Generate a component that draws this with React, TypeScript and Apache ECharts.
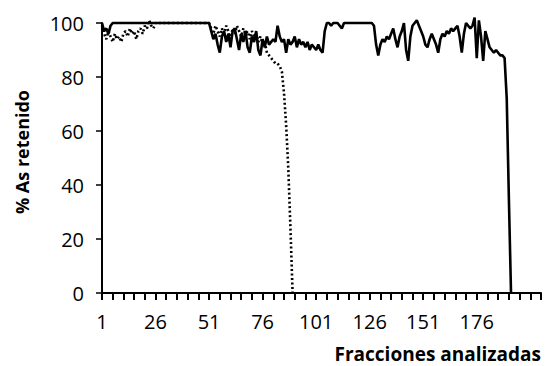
import React, { useEffect, useRef } from "react";
import * as echarts from "echarts";

// Fraction numbers on the x axis (category axis, 1..206)
const fractions: string[] = Array.from({ length: 206 }, (_, i) => String(i + 1));

// Y tick values
const yTicks = [0, 20, 40, 60, 80, 100];

// Solid series: % As retained, fractions 1..192
const solidValues: number[] = [
  100, 97, 98, 96, 99, 100, 100, 100, 100, 100,
  100, 100, 100, 100, 100, 100, 100, 100, 100, 100,
  100, 100, 100, 100, 100, 100, 100, 100, 100, 100,
  100, 100, 100, 100, 100, 100, 100, 100, 100, 100,
  100, 100, 100, 100, 100, 100, 100, 100, 100, 100,
  100, 97, 94, 96, 92, 89, 95, 97, 93, 96,
  91, 97, 98, 94, 90, 96, 93, 97, 91, 89,
  95, 93, 97, 90, 88, 94, 91, 95, 92, 93,
  94, 93, 99, 95, 93, 94, 89, 94, 92, 93,
  95, 91, 94, 92, 93, 91, 93, 90, 92, 91,
  90, 92, 90, 89, 97, 100, 100, 99, 100, 100,
  100, 99, 98, 100, 100, 100, 100, 100, 100, 100,
  100, 100, 100, 100, 100, 100, 100, 99, 92, 88,
  92, 94, 93, 95, 94, 96, 98, 94, 91, 95,
  97, 100, 90, 86, 95, 99, 100, 101, 99, 97,
  95, 92, 91, 94, 96, 94, 92, 89, 94, 96,
  95, 97, 96, 98, 97, 98, 99, 95, 89, 96,
  100, 99, 98, 99, 102, 87, 101, 95, 86, 97,
  94, 91, 90, 89, 90, 89, 88, 88, 87, 72,
  35, 0,
];

// Dotted series: % As retained, fractions 1..90
const dottedValues: number[] = [
  99, 96, 94, 97, 95, 93, 96, 94, 95, 93,
  96, 97, 95, 98, 96, 97, 94, 97, 98, 96,
  99, 98, 101, 99, 98, 100, 100, 100, 100, 100,
  100, 100, 100, 100, 100, 100, 100, 100, 100, 100,
  100, 100, 100, 100, 100, 100, 100, 100, 100, 100,
  100, 98, 96, 99, 97, 95, 98, 96, 99, 97,
  94, 98, 96, 99, 97, 95, 98, 96, 97, 94,
  97, 95, 96, 93, 95, 92, 93, 89, 88, 87,
  86, 85, 85, 84, 82, 74, 62, 46, 24, 0,
];

const FONT = "'Open Sans', 'Noto Sans', sans-serif";

export default function App() {
  const ref = useRef<HTMLDivElement>(null);

  useEffect(() => {
    document.body.style.margin = "0";
    if (!ref.current) return;
    const chart = echarts.init(ref.current, null, { renderer: "svg" });
    chart.setOption({
      animation: false,
      backgroundColor: "#ffffff",
      grid: { left: 102, right: 4, top: 23, bottom: 73, containLabel: false },
      xAxis: {
        type: "category",
        data: fractions,
        boundaryGap: false,
        axisLine: { show: true, lineStyle: { color: "#000", width: 2 } },
        axisTick: {
          show: true,
          interval: 4,
          length: 7,
          inside: false,
          lineStyle: { color: "#000", width: 2 },
        },
        axisLabel: {
          interval: 24,
          margin: 18,
          color: "#000",
          fontSize: 20,
          fontFamily: FONT,
          formatter: (v: string) => (Number(v) > 180 ? "" : v),
        },
        splitLine: { show: false },
      },
      yAxis: {
        type: "value",
        min: yTicks[0],
        max: yTicks[yTicks.length - 1],
        interval: 20,
        axisLine: { show: true, lineStyle: { color: "#000", width: 2 } },
        axisTick: { show: true, length: 6, lineStyle: { color: "#000", width: 1.5 } },
        axisLabel: {
          margin: 18,
          color: "#000",
          fontSize: 20,
          fontFamily: FONT,
        },
        splitLine: { show: false },
      },
      graphic: [
        {
          type: "text",
          x: 22,
          y: 152,
          rotation: Math.PI / 2,
          style: {
            text: "% As retenido",
            fontSize: 18,
            fontWeight: "bold",
            fontFamily: FONT,
            fill: "#000",
            textAlign: "center",
            textVerticalAlign: "middle",
          },
        },
        {
          type: "text",
          right: 4,
          top: 344,
          style: {
            text: "Fracciones analizadas",
            fontSize: 19,
            fontWeight: "bold",
            fontFamily: FONT,
            fill: "#000",
          },
        },
      ],
      series: [
        {
          type: "line",
          data: solidValues,
          showSymbol: false,
          symbol: "none",
          clip: false,
          lineStyle: { color: "#000", width: 2.6, type: "solid" },
          z: 3,
        },
        {
          type: "line",
          data: dottedValues,
          showSymbol: false,
          symbol: "none",
          clip: false,
          lineStyle: { color: "#000", width: 2.6, type: [2, 2.5] },
          z: 2,
        },
      ],
    });
    return () => chart.dispose();
  }, []);

  return <div ref={ref} style={{ width: 545, height: 366 }} />;
}
